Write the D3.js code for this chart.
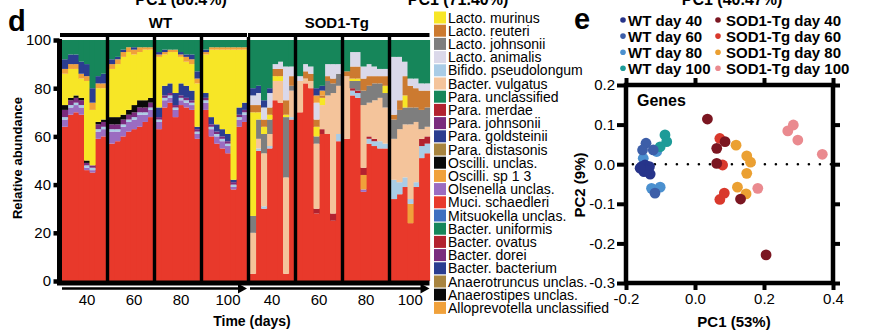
<!DOCTYPE html>
<html><head><meta charset="utf-8">
<script src="https://cdn.jsdelivr.net/npm/d3@7"></script>
<style>
body{margin:0;background:#fff}
svg text{font-family:"Liberation Sans",Arial,sans-serif;fill:#000}
</style>
</head><body>
<svg id="c" width="870" height="335"></svg>
<script>
// ---------------- DATA ----------------
const groups = ["WT", "SOD1-Tg"];
const panelDays = ["40", "60", "80", "100"];
const samplesPerPanel = [8, 8, 8, 8, 8, 8, 8, 7];
const yTicks = [0, 20, 40, 60, 80, 100];

const legendNames = ["Lacto. murinus","Lacto. reuteri","Lacto. johnsonii","Lacto. animalis","Bifido. pseudolongum","Bacter. vulgatus","Para. unclassified","Para. merdae","Para. johnsonii","Para. goldsteinii","Para. distasonis","Oscilli. unclas.","Oscilli. sp 1 3","Olsenella unclas.","Muci. schaedleri","Mitsuokella unclas.","Bacter. uniformis","Bacter. ovatus","Bacter. dorei","Bacter. bacterium","Anaerotruncus unclas.","Anaerostipes unclas.","Alloprevotella unclassified"];
const legendColors = ["#f7e626","#cc7a30","#7e7e7e","#dad8e9","#a9cce6","#f4c49b","#16865a","#b3222f","#7a2b7d","#2b3d90","#a8843f","#0a0a0a","#f0a13b","#9b6cc1","#e8392b","#3f6fc0","#16865a","#b3222f","#7a2b7d","#2b3d90","#a8843f","#0a0a0a","#f0a13b"];

// relative abundance per sample (WT 40,60,80,100 then SOD1-Tg 40,60,80,100)
const muci = [64,69,70,69,46,45,59,60, 57,58,60,62,63,64,66,68, 63,72,74,68,73,72,71,59, 71,60,57,55,53,38,64,66, 3,54,30,55,75,74,3,67, 70,82,80,28,61,61,25,58, 59,77,76,37,57,56,55,55, 34,36,39,24,39,51,53];
const olsenella = [3,3,3,3,1,1,3,3, 5,4,4,4,4,5,3,3, 3,3,2,3,2,2,2,2, 3,3,3,3,3,1,3,3, 0,0,0,0,0,0,0,0, 0,0,0,0,0,0,0,0, 0,0,0,1,0,0,0,0, 0,0,0,0,0,0,0];
const allo = [0,0,0,0,0,0,0,0, 0,0,0,0,0,0,0,0, 0,0,0,0,0,0,0,0, 0,0,0,0,0,0,0,0, 0,0,0,0,0,0,0,0, 0,0,0,0,0,0,0,0, 0,0,0,6,0,0,0,0, 0,0,0,8,0,0,0];
const bifido = [1,1,1,1,1,1,1,1, 1,1,1,1,1,1,1,1, 1,1,1,1,1,1,1,1, 1,1,1,1,1,1,1,1, 0,1,1,1,0,0,0,1, 0,0,0,0,0,0,0,3, 0,2,2,0,2,2,3,2, 8,5,4,2,2,5,4];
const paraJohnsonii = [3,2,2,2,1,1,2,2, 2,2,2,2,2,2,2,2, 1,1,1,1,1,1,1,1, 1,1,1,1,1,1,1,1, 0,0,0,0,0,0,0,0, 0,0,0,0,0,0,0,0, 0,0,0,0,0,0,0,0, 0,0,0,0,0,0,0];
const bacterBacterium = [0,0,0,0,0,0,0,0, 0,0,0,0,0,0,0,0, 4,4,4,5,5,5,4,1, 2,3,3,3,3,1,3,3, 0,0,0,0,0,0,0,0, 0,0,0,0,0,0,0,0, 0,0,0,0,0,0,0,0, 0,0,0,0,0,0,0];
const merdae = [0,0,0,0,0,0,0,0, 0,0,0,0,0,0,0,0, 0,0,0,0,0,0,0,0, 0,0,0,0,0,0,0,0, 0,0,0,0,0,0,0,0, 0,0,0,2,2,0,3,0, 0,1,1,3,1,1,0,0, 0,0,0,0,0,3,3];
const vulgatus = [0,0,0,0,0,0,0,0, 0,0,0,0,0,0,0,0, 0,0,0,0,0,0,0,0, 0,0,0,0,0,0,0,0, 17,4,22,5,8,9,40,11, 13,2,3,27,10,16,50,20, 26,0,0,26,14,16,18,15, 17,22,22,31,25,4,4];
const johnsonii = [0,0,0,0,0,0,0,0, 0,0,0,0,0,0,0,0, 0,0,0,0,0,0,0,0, 0,0,0,0,0,0,0,0, 7,8,8,6,0,0,25,2, 0,0,0,3,0,6,4,5, 0,3,4,6,7,7,6,6, 8,8,7,7,6,8,8];
const oscilliUnclas = [2,1,1,1,1,0,1,1, 3,3,2,2,3,3,3,2, 0,0,0,0,0,0,0,0, 0,0,0,0,0,0,0,0, 0,0,0,0,0,0,0,0, 0,0,0,0,0,0,0,0, 0,0,0,0,0,0,0,0, 0,0,0,0,0,0,0];
const murinus = [13,12,11,8,33,23,14,13, 20,22,24,24,21,20,21,20, 21,13,13,17,11,10,11,18, 16,28,31,33,35,54,24,22, 43,3,3,2,2,2,1,0, 0,0,0,4,3,0,0,0, 0,1,1,0,0,0,0,3, 0,0,5,0,0,0,0];
const reuteri = [0,0,0,0,0,0,0,0, 0,0,0,0,0,0,0,0, 0,0,0,0,0,0,0,0, 0,0,0,0,0,0,0,0, 3,3,3,3,3,3,6,4, 0,3,3,3,1,2,2,0, 2,5,5,5,4,3,3,4, 2,4,8,9,8,8,7];
const animalis = [0,0,0,0,0,0,0,0, 0,0,0,0,0,0,0,0, 0,0,0,0,0,0,0,0, 0,0,0,0,0,0,0,0, 4,5,5,6,2,3,14,4, 2,3,3,7,0,5,6,4, 0,6,6,5,5,4,3,3, 24,18,6,3,4,3,3];
const oscilliSp = [2,2,2,2,2,3,2,2, 2,2,2,2,2,2,1,1, 1,1,1,1,1,2,2,2, 1,1,1,1,1,1,1,1, 0,0,0,0,0,0,0,0, 0,0,0,3,2,0,0,0, 0,0,0,0,0,0,0,0, 0,0,0,0,0,0,0];
const goldsteinii = [4,4,4,5,5,6,3,4, 2,1,1,0,1,0,0,0, 1,1,0,0,1,1,2,3, 1,0,0,0,0,0,0,0, 3,3,3,2,0,0,0,0, 0,0,0,3,2,0,0,0, 0,0,0,0,0,0,0,0, 0,0,0,0,0,0,0];
const paraUnclassified = [8,6,6,9,10,20,15,14, 8,7,4,3,3,3,3,3, 5,4,4,4,5,6,6,13, 4,3,3,3,3,3,3,3, 20,19,25,20,10,9,11,11, 15,10,11,20,19,10,10,10, 13,5,5,11,10,11,12,12, 7,7,9,16,16,18,18];

// stacking order, bottom to top
const stackOrder = ["Muci. schaedleri","Olsenella unclas.","Alloprevotella unclassified","Bifido. pseudolongum","Para. johnsonii","Bacter. bacterium","Para. merdae","Bacter. vulgatus","Lacto. johnsonii","Oscilli. unclas.","Lacto. murinus","Lacto. reuteri","Lacto. animalis","Oscilli. sp 1 3","Para. goldsteinii","Para. unclassified"];
const stackValues = [muci, olsenella, allo, bifido, paraJohnsonii, bacterBacterium, merdae, vulgatus, johnsonii, oscilliUnclas, murinus, reuteri, animalis, oscilliSp, goldsteinii, paraUnclassified];

// PCA
const pcaLegend = ["WT day 40","WT day 60","WT day 80","WT day 100","SOD1-Tg day 40","SOD1-Tg day 60","SOD1-Tg day 80","SOD1-Tg day 100"];
const pcaColors = ["#27348a","#3d5ea8","#4b90cf","#1d9b98","#7b1621","#d9392c","#eba032","#ea8a8f"];
const pcGroup = [2,2,2,2, 3,3,3, 1,1,1,1, 0,0,0,0,0,0,0, 6,6,6,6,6,6, 7,7,7,7,7, 5,5,5,5, 4,4,4,4,4,4];
const pc1 = [-0.126,-0.101,-0.150,-0.111, -0.087,-0.082,-0.101, -0.142,-0.152,-0.121,-0.116, -0.155,-0.145,-0.132,-0.148,-0.130,-0.140,-0.159, 0.119,0.150,0.161,0.150,0.123,0.148, 0.269,0.285,0.298,0.369,0.182, 0.072,0.080,0.072,0.085, 0.036,0.063,0.063,0.087,0.132,0.206];
const pc2 = [-0.061,-0.058,0.015,0.032, 0.074,0.057,0.044, 0.053,0.036,0.036,-0.073, -0.006,-0.002,-0.006,-0.019,-0.025,-0.015,-0.010, 0.048,0.021,0.005,-0.023,-0.058,-0.075, 0.084,0.099,0.061,0.025,-0.061, 0.065,-0.002,-0.089,-0.073, 0.114,0.040,0.002,0.057,-0.088,-0.229];
const pcXTicks = [-0.2, 0.0, 0.2, 0.4];
const pcYTicks = [-0.3, -0.2, -0.1, 0.0, 0.1, 0.2];

// ---------------- DRAW ----------------
const svg = d3.select("#c");
const colorOf = n => legendColors[legendNames.indexOf(n)];

// cut-off titles at the very top
[["PC1 (80.4%)",181],["PC1 (71.40%)",458],["PC1 (40.47%)",732]].forEach(([t,x]) =>
  svg.append("text").attr("x", x).attr("y", 4.5).attr("text-anchor","middle")
     .attr("font-size",16).attr("font-weight","bold").text(t));

// panel letters
svg.append("text").attr("x",8).attr("y",31).attr("font-size",29).attr("font-weight","bold").text("d");
svg.append("text").attr("x",574).attr("y",29).attr("font-size",29).attr("font-weight","bold").text("e");

// build sample table
const panels = [];
groups.forEach(g => panelDays.forEach(d => panels.push(g + "|" + d)));
const rows = [];
let k = 0;
panels.forEach((p, pi) => {
  for (let i = 0; i < samplesPerPanel[pi]; i++) {
    const r = {panel: p, idx: i};
    stackOrder.forEach((s, si) => r[s] = stackValues[si][k]);
    rows.push(r); k++;
  }
});

const y = d3.scaleLinear().domain([0,100]).range([281,40]);
const xPanel = d3.scaleBand().domain(panels).range([62,435]).paddingInner(0.064);
const slot = d3.scaleBand().domain(d3.range(8)).range([0, xPanel.bandwidth()]);
const panelEnd = (p) => xPanel(p) + slot.step() * samplesPerPanel[panels.indexOf(p)];

const stacked = d3.stack().keys(stackOrder)(rows);
svg.append("g").selectAll("g").data(stacked).join("g")
  .attr("fill", s => colorOf(s.key))
  .selectAll("rect").data(s => s.filter(d => d[1] > d[0])).join("rect")
  .attr("x", d => xPanel(d.data.panel) + slot(d.data.idx))
  .attr("width", slot.bandwidth() + 0.6)
  .attr("y", d => y(Math.min(100, d[1])))
  .attr("height", d => Math.max(0, y(d[0]) - y(Math.min(100, d[1]))));

// separators between panels
const gap = xPanel.step() - xPanel.bandwidth();
panels.slice(1).forEach(p => {
  svg.append("line").attr("x1", xPanel(p) - gap/2).attr("x2", xPanel(p) - gap/2)
    .attr("y1", 37).attr("y2", 283).attr("stroke","#000").attr("stroke-width",3.4);
});

// y axis
const yAx = svg.append("g").attr("transform","translate(59.5,0)")
  .call(d3.axisLeft(y).tickValues(yTicks).tickSize(6).tickSizeOuter(0).tickPadding(2.5));
yAx.select(".domain").attr("stroke-width",5).attr("d","M0,39V285");
yAx.selectAll(".tick line").attr("stroke-width",4.5);
yAx.selectAll(".tick text").attr("font-size",15).attr("font-family","Liberation Sans, Arial").attr("fill","#000");
// x baseline
svg.append("line").attr("x1",57).attr("x2",panelEnd(panels[7])).attr("y1",283).attr("y2",283)
  .attr("stroke","#000").attr("stroke-width",5);

svg.append("text").attr("transform","translate(22,158) rotate(-90)").attr("text-anchor","middle")
  .attr("font-size",13).attr("font-weight","bold").text("Relative abundance");

// group headers, arrows and day labels
groups.forEach((g, gi) => {
  const first = panels[gi*4], last = panels[gi*4+3];
  const x1 = xPanel(first), x2 = panelEnd(last);
  svg.append("line").attr("x1", x1 - 2).attr("x2", x2).attr("y1",35).attr("y2",35)
    .attr("stroke","#000").attr("stroke-width",4);
  svg.append("text").attr("x",(x1+x2)/2 + (gi===0?6:-3)).attr("y",28).attr("text-anchor","middle")
    .attr("font-size",15).attr("font-weight","bold").text(g);
  svg.append("line").attr("x1", x1).attr("x2", x2 - 7).attr("y1",288.5).attr("y2",288.5)
    .attr("stroke","#000").attr("stroke-width",2.5);
  svg.append("path").attr("d",`M${x2-9},283.5L${x2},288.5L${x2-9},293.5Z`).attr("fill","#000");
  panelDays.forEach((d, di) => {
    const p = panels[gi*4+di];
    svg.append("text").attr("x",(xPanel(p)+panelEnd(p))/2 + (gi===0?3:0)).attr("y",305)
      .attr("text-anchor","middle").attr("font-size",15).text(d);
  });
});
svg.append("text").attr("x",252).attr("y",326).attr("text-anchor","middle")
  .attr("font-size",14).attr("font-weight","bold").text("Time (days)");

// legend
const lg = svg.append("g");
legendNames.forEach((n, i) => {
  const cy = 17.5 + 13.2 * i;
  lg.append("rect").attr("x",434).attr("y",cy-6).attr("width",12).attr("height",12).attr("fill",legendColors[i]);
  lg.append("text").attr("x",448).attr("y",cy+5).attr("font-size",14).text(n);
});

// ---------------- PCA ----------------
const xP = d3.scaleLinear().domain([-0.2,0.4]).range([626,833]);
const yP = d3.scaleLinear().domain([-0.3,0.2]).range([283,85]);
const fmt = v => v.toFixed(1);
const styleAx = (g) => { g.select(".domain").remove(); g.selectAll(".tick line").attr("stroke-width",4);
  g.selectAll(".tick text").attr("font-size",15).attr("font-family","Liberation Sans, Arial").attr("fill","#000"); };
svg.append("g").attr("transform","translate(626,0)")
  .call(d3.axisLeft(yP).tickValues(pcYTicks).tickFormat(fmt).tickSize(9).tickPadding(2)).call(styleAx);
svg.append("g").attr("transform","translate(833,0)")
  .call(d3.axisRight(yP).tickValues(pcYTicks).tickFormat("").tickSize(7)).call(styleAx);
svg.append("g").attr("transform","translate(0,85)")
  .call(d3.axisTop(xP).tickValues(pcXTicks).tickFormat("").tickSize(7)).call(styleAx);
svg.append("g").attr("transform","translate(0,283)")
  .call(d3.axisBottom(xP).tickValues(pcXTicks).tickFormat(fmt).tickSize(7).tickPadding(3)).call(styleAx);

svg.append("line").attr("x1",xP(-0.18)).attr("x2",xP(0.4)).attr("y1",yP(0)).attr("y2",yP(0))
  .attr("stroke","#000").attr("stroke-width",2.6).attr("stroke-linecap","round").attr("stroke-dasharray","0 11");

svg.append("g").selectAll("circle").data(pc1.map((v,i)=>i)).join("circle")
  .attr("cx", i => xP(pc1[i])).attr("cy", i => yP(pc2[i])).attr("r",5.4)
  .attr("fill", i => pcaColors[pcGroup[i]]);

svg.append("rect").attr("x",626).attr("y",85).attr("width",207).attr("height",198)
  .attr("fill","none").attr("stroke","#000").attr("stroke-width",4.5);

svg.append("text").attr("x",637).attr("y",106).attr("font-size",16).attr("font-weight","bold").text("Genes");
svg.append("text").attr("x",734).attr("y",327).attr("text-anchor","middle")
  .attr("font-size",15).attr("font-weight","bold").text("PC1 (53%)");
svg.append("text").attr("transform","translate(585,185) rotate(-90)").attr("text-anchor","middle")
  .attr("font-size",15).attr("font-weight","bold").text("PC2 (9%)");

pcaLegend.forEach((n, i) => {
  const col = Math.floor(i/4), row = i % 4;
  const cx = col === 0 ? 623 : 718, cy = 20 + 16.1*row;
  svg.append("circle").attr("cx",cx).attr("cy",cy).attr("r",2.8).attr("fill",pcaColors[i]);
  svg.append("text").attr("x",cx + (col===0?5:8)).attr("y",cy+5.5).attr("font-size",15)
    .attr("font-weight","bold").text(n);
});
</script>
</body></html>
